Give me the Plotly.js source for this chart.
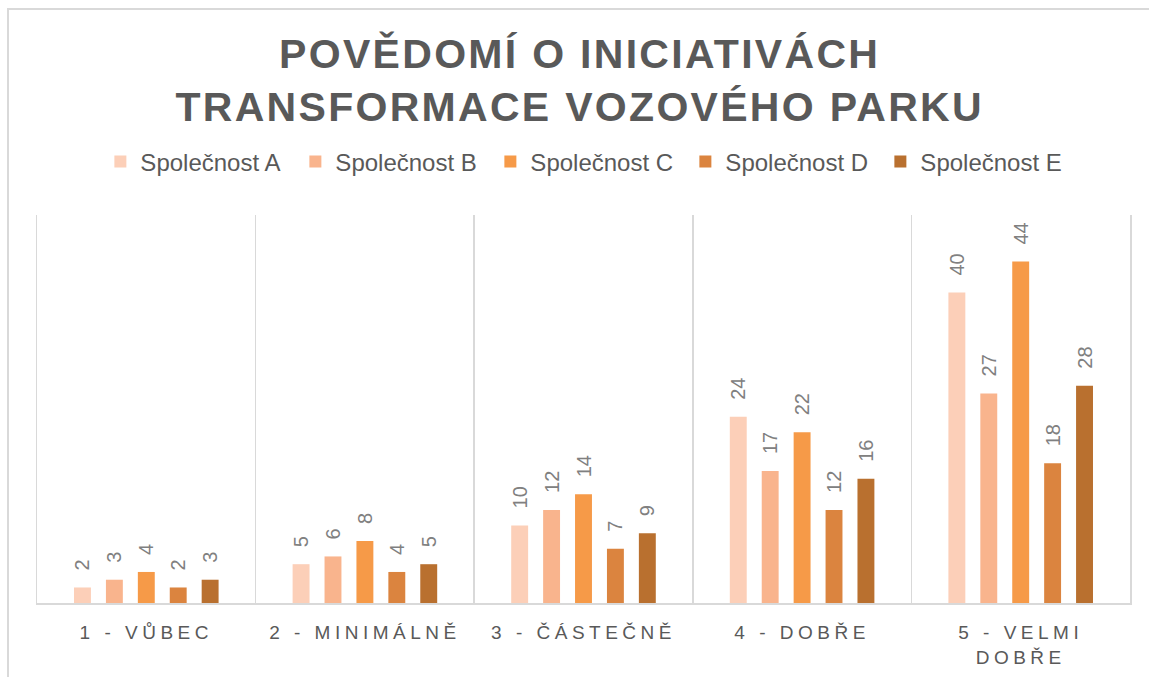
<!DOCTYPE html>
<html>
<head>
<meta charset="utf-8">
<script src="https://cdn.plot.ly/plotly-3.0.1.min.js"></script>
<style>
  html, body { margin: 0; padding: 0; background: #ffffff; }
  #wrap { position: relative; width: 1149px; height: 677px; overflow: hidden; }
  #frame { position: absolute; left: 7px; top: 8px; width: 1200px; height: 700px;
           border-left: 2px solid #d9d9d9; border-top: 2px solid #d9d9d9; box-sizing: border-box; }
  #chart { position: absolute; left: 0; top: 0; width: 1149px; height: 677px; }
</style>
</head>
<body>
<div id="wrap">
  <div id="frame"></div>
  <div id="chart"></div>
</div>
<script>
const categories = ["1 - VŮBEC", "2 - MINIMÁLNĚ", "3 - ČÁSTEČNĚ", "4 - DOBŘE", "5 - VELMI DOBŘE"];
const tickLabels = ["1 - VŮBEC", "2 - MINIMÁLNĚ", "3 - ČÁSTEČNĚ", "4 - DOBŘE", "5 - VELMI<br>DOBŘE"];
const seriesNames = ["Společnost A", "Společnost B", "Společnost C", "Společnost D", "Společnost E"];
const companyA = [2, 5, 10, 24, 40];
const companyB = [3, 6, 12, 17, 27];
const companyC = [4, 8, 14, 22, 44];
const companyD = [2, 4, 7, 12, 18];
const companyE = [3, 5, 9, 16, 28];
const seriesColors = ["#FCCFB8", "#F9B48D", "#F69A48", "#DB843F", "#B9702F"];

const allValues = [companyA, companyB, companyC, companyD, companyE];
const FONT = '"Liberation Sans", Arial, sans-serif';
const LABEL_PAD = '\u2002\u2009';

const traces = allValues.map((vals, i) => ({
  type: 'bar',
  name: seriesNames[i],
  x: categories,
  y: vals,
  marker: { color: seriesColors[i] },
  text: vals.map(v => LABEL_PAD + v),
  textposition: 'outside',
  textangle: -90,
  constraintext: 'none',
  cliponaxis: false,
  textfont: { family: FONT, size: 20, color: '#808080' },
  hoverinfo: 'none'
}));

const layout = {
  width: 1149,
  height: 677,
  paper_bgcolor: 'rgba(0,0,0,0)',
  plot_bgcolor: 'rgba(0,0,0,0)',
  margin: { l: 37, r: 19, t: 215, b: 74 },
  barmode: 'group',
  bargap: 0.27,
  bargroupgap: 0.47,
  title: {
    text: 'POVĚDOMÍ O INICIATIVÁCH<br>TRANSFORMACE VOZOVÉHO PARKU',
    font: { family: FONT, size: 41, color: '#595959', weight: 'bold' },
    x: 0.5045, xanchor: 'center',
    yref: 'container', y: 0.9, yanchor: 'middle'
  },
  showlegend: true,
  legend: {
    orientation: 'h',
    x: 0.504, xanchor: 'center',
    y: 1.137, yanchor: 'middle',
    font: { family: FONT, size: 24, color: '#595959' },
    entrywidth: 150,
    itemwidth: 30,
    traceorder: 'normal'
  },
  xaxis: {
    type: 'category',
    tickvals: categories,
    ticktext: tickLabels,
    tickson: 'boundaries',
    showgrid: true,
    gridcolor: '#d9d9d9',
    gridwidth: 1.5,
    showline: true,
    linecolor: '#d9d9d9',
    linewidth: 2,
    ticks: '',
    ticklen: 0,
    ticklabelstandoff: 11,
    tickfont: { family: FONT, size: 19, color: '#595959' },
    fixedrange: true
  },
  yaxis: {
    range: [0, 50],
    visible: true,
    showticklabels: false,
    ticks: '',
    showline: true,
    mirror: true,
    linecolor: '#d9d9d9',
    linewidth: 1.5,
    showgrid: false,
    zeroline: false,
    fixedrange: true
  }
};

function spacing() {
  document.querySelectorAll('#chart .xtick text').forEach(t => { t.style.letterSpacing = '4.5px'; });
  document.querySelectorAll('#chart .gtitle').forEach(t => { t.style.letterSpacing = '2.3px'; });
}

Plotly.newPlot('chart', traces, layout, { displayModeBar: false, staticPlot: true }).then(gd => {
  spacing();
  gd.on('plotly_afterplot', spacing);
});
</script>
</body>
</html>
